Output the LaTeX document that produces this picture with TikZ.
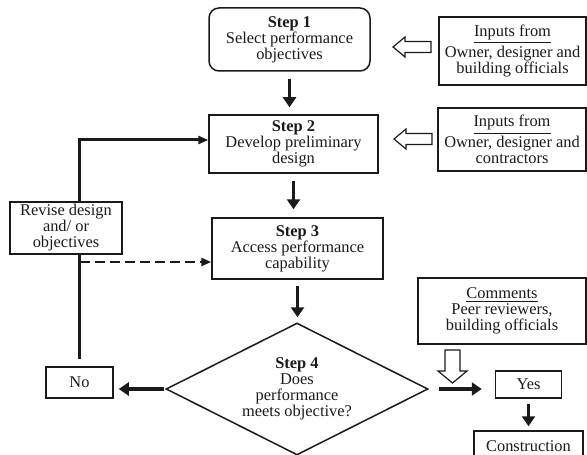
\documentclass[tikz,border=0pt]{standalone}
\usepackage{fontspec}
\setmainfont{Liberation Serif}
\usetikzlibrary{arrows.meta,calc,positioning,shapes.geometric}
\definecolor{tinta}{HTML}{1A1A1A}
\newcommand{\hollowarr}[5]{\draw[hollow,shift={#1},rotate=#2] (0,0) -- (12,-#4) -- (12,-#5) -- (#3,-#5) -- (#3,#5) -- (12,#5) -- (12,#4) -- cycle;}

\begin{document}
\begin{tikzpicture}[x=0.5pt,y=-0.5pt,font=\fontsize{8.2}{8}\selectfont,
  box/.style={draw=tinta,line width=0.75pt,align=center,inner sep=0pt,text=tinta},
  flow/.style={tinta,line width=1.6pt,-{Triangle[length=5pt,width=6.5pt]}},
  link/.style={tinta,line width=1.5pt},
  hollow/.style={draw=tinta,fill=white,line width=0.6pt,line join=miter}]

\useasboundingbox (0,0) rectangle (587,454);

% steps
\node[box,rounded corners=5pt,minimum width=80.5pt,minimum height=31.5pt] (s1) at (289.5,39.5) {\textbf{Step 1}\\Select performance\\objectives};
\node[box,minimum width=84.5pt,minimum height=29pt] (s2) at (293.5,144) {\textbf{Step 2}\\Develop preliminary\\design};
\node[box,minimum width=85.5pt,minimum height=30.5pt] (s3) at (297.5,248.5) {\textbf{Step 3}\\Access performance\\capability};
\node[box,diamond,shape aspect=2,minimum width=131pt,minimum height=66pt] (s4) at (297,389) {\textbf{Step 4}\\Does\\performance\\meets objective?};

% inputs
\node[box,minimum width=73.5pt,minimum height=34pt] (in1) at (512.5,51) {\underline{Inputs from}\\Owner, designer and\\building officials};
\node[box,minimum width=74pt,minimum height=31.5pt] (in2) at (512,139.5) {\underline{Inputs from}\\Owner, designer and\\contractors};
\node[box,minimum width=84pt,minimum height=33pt] (com) at (502,311) {\underline{Comments}\\Peer reviewers,\\building officials};

% outcomes
\node[box,minimum width=56pt,minimum height=26pt] (rev) at (66,228) {Revise design\\and/ or\\objectives};
\node[box,minimum width=33.5pt,minimum height=15.5pt] (no) at (79.5,382.5) {No};
\node[box,minimum width=33pt,minimum height=13.5pt] (yes) at (528.5,384.5) {Yes};
\node[box,minimum width=54.5pt,minimum height=15pt] (con) at (528.5,446) {Construction};

% main flow
\draw[flow,shorten <=3.5pt,shorten >=3.5pt] (s1.south) -- (s1.south |- s2.north);
\draw[flow,shorten <=3.5pt,shorten >=4pt] (s2.south) -- (s2.south |- s3.north);
\draw[flow,shorten <=3pt,shorten >=2.5pt] (s3.south) -- (s3.south |- s4.north);
\draw[flow,shorten <=0.5pt,shorten >=2.5pt] (s4.west) -- (s4.west -| no.east);
\draw[flow,shorten <=5pt,shorten >=6.5pt] (s4.east) -- (s4.east -| yes.west);
\draw[flow,shorten <=2.5pt,shorten >=2pt] (yes.south) -- (yes.south |- con.north);

% loop back
\coordinate (s3in) at ([yshift=-6.75pt]s3.west);
\draw[link,shorten <=3.5pt] (no.north) -- (no.north |- rev.south);
\draw[link,-{Triangle[length=5pt,width=4pt]}] (no.north |- rev.north) |- ([yshift=2pt]s2.west);
\draw[tinta,line width=1.4pt,dash pattern=on 5pt off 2.5pt,-{Triangle[length=5pt,width=4pt]}] (no.north |- s3in) -- (s3in);

% hollow arrows
\hollowarr{(393,47)}{0}{38}{10}{5.5}
\hollowarr{(394,139)}{0}{38}{10}{5.5}
\hollowarr{(452.5,383)}{90}{33}{14.5}{7.5}

\end{tikzpicture}
\end{document}
